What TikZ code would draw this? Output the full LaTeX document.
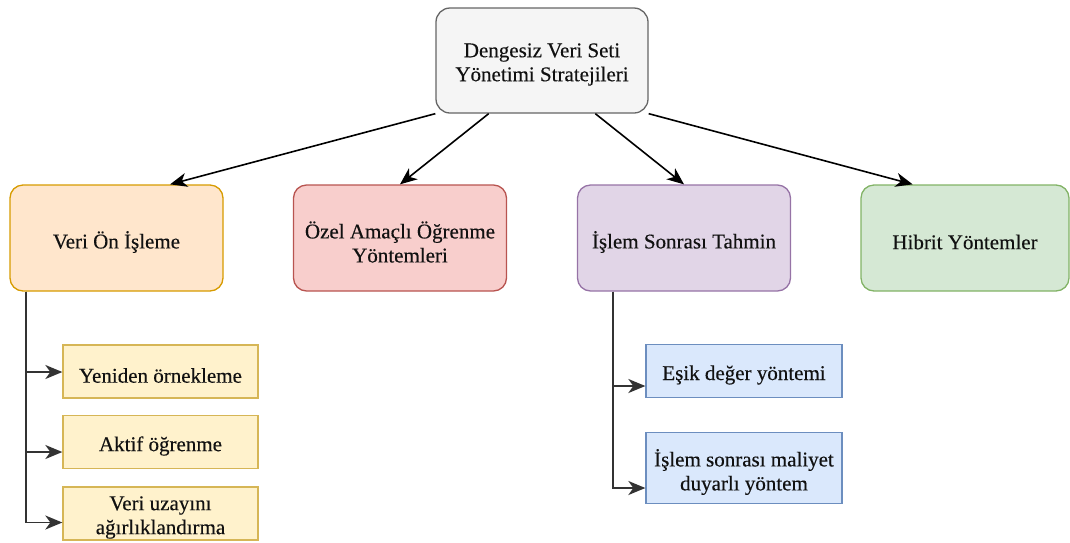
\documentclass[tikz,border=0pt]{standalone}
\usepackage{fontspec}
\setmainfont{Liberation Serif}
\newfontfamily\boxfont[FakeBold=0.3]{Liberation Serif}
\usetikzlibrary{arrows.meta,calc}

\definecolor{rootfill}{HTML}{F5F5F5}
\definecolor{rootline}{HTML}{666666}
\definecolor{orfill}{HTML}{FFE6CC}
\definecolor{orline}{HTML}{D79B00}
\definecolor{rdfill}{HTML}{F8CECC}
\definecolor{rdline}{HTML}{B85450}
\definecolor{pufill}{HTML}{E1D5E7}
\definecolor{puline}{HTML}{9673A6}
\definecolor{grfill}{HTML}{D5E8D4}
\definecolor{grline}{HTML}{82B366}
\definecolor{yefill}{HTML}{FFF2CC}
\definecolor{yeline}{HTML}{D6B656}
\definecolor{blfill}{HTML}{DAE8FC}
\definecolor{blline}{HTML}{6C8EBF}
\definecolor{txt}{HTML}{111111}
\definecolor{wire}{HTML}{333333}

\tikzset{
  % box outline; its text is set as a centred label, sitting a little low
  box/.style={rectangle, inner sep=0pt, line width=1.3pt},
  txtlabel/.style={inner sep=0pt, align=center, text=txt, yshift=-4pt,
    font=\boxfont\fontsize{21}{24}\selectfont},
  catbox/.style={box, rounded corners=13pt, minimum width=213pt, minimum height=106pt},
  subbox/.style={box, minimum width=195pt},
  mainarrow/.style={line width=1.6pt, draw=black,
    -{Stealth[length=17pt, width=14pt, inset=5pt]}},
  branch/.style={line width=1.9pt, draw=wire,
    -{Stealth[length=17pt, width=14pt, inset=5pt]}}
}

\begin{document}
\begin{tikzpicture}[x=1pt, y=-1pt]
  \useasboundingbox (0,0) rectangle (1070,542);

  % root
  \node[box, rounded corners=14pt, minimum width=212pt, minimum height=105pt,
        fill=rootfill, draw=rootline,
        label={[txtlabel]center:{Dengesiz Veri Seti\\Yönetimi Stratejileri}}] (root) at (542,60.5) {};

  % categories
  \node[catbox, fill=orfill, draw=orline,
        label={[txtlabel]center:{Veri Ön İşleme}}] (pre) at (116.5,238) {};
  \node[catbox, fill=rdfill, draw=rdline,
        label={[txtlabel]center:{Özel Amaçlı Öğrenme\\Yöntemleri}}] (spec) at (400,238) {};
  \node[catbox, fill=pufill, draw=puline,
        label={[txtlabel]center:{İşlem Sonrası Tahmin}}] (post) at (684,238) {};
  \node[catbox, minimum width=208pt, fill=grfill, draw=grline,
        label={[txtlabel]center:{Hibrit Yöntemler}}] (hyb) at (965,238) {};

  % preprocessing methods
  \node[subbox, minimum height=53pt, fill=yefill, draw=yeline,
        label={[txtlabel]center:{Yeniden örnekleme}}] (s1) at (160.5,371.5) {};
  \node[subbox, minimum height=53pt, fill=yefill, draw=yeline,
        label={[txtlabel]center:{Aktif öğrenme}}] (s2) at (160.5,442) {};
  \node[subbox, minimum height=53pt, fill=yefill, draw=yeline,
        label={[txtlabel]center:{Veri uzayını\\ağırlıklandırma}}] (s3) at (160.5,513.5) {};

  % post-processing methods
  \node[subbox, minimum width=196pt, minimum height=53pt, fill=blfill, draw=blline,
        label={[txtlabel]center:{Eşik değer yöntemi}}] (r1) at (744,371) {};
  \node[subbox, minimum width=196pt, minimum height=71pt, fill=blfill, draw=blline,
        label={[txtlabel]center:{İşlem sonrası maliyet\\duyarlı yöntem}}] (r2) at (744,468) {};

  % root to categories
  \draw[mainarrow] (root.south west) -- ($(pre.north west)!0.75!(pre.north east)$);
  \draw[mainarrow] ($(root.south west)!0.25!(root.south east)$) -- (spec.north);
  \draw[mainarrow] ($(root.south west)!0.75!(root.south east)$) -- (post.north);
  \draw[mainarrow] (root.south east) -- ($(hyb.north west)!0.25!(hyb.north east)$);

  % branches under the categories
  \coordinate (lroot) at ($(pre.south west)+(16.5,0)$);
  \coordinate (rroot) at ($(post.south west)+(36,0)$);
  \draw[branch] (lroot) |- ($(s1.west)+(0,0.5)$);
  \draw[branch] (lroot) |- ($(s2.west)+(0,10)$);
  \draw[branch] (lroot) |- ($(s3.west)+(0,9)$);
  \draw[branch] (rroot) |- ($(r1.west)+(0,15)$);
  \draw[branch] (rroot) |- ($(r2.west)+(0,20)$);
\end{tikzpicture}
\end{document}
